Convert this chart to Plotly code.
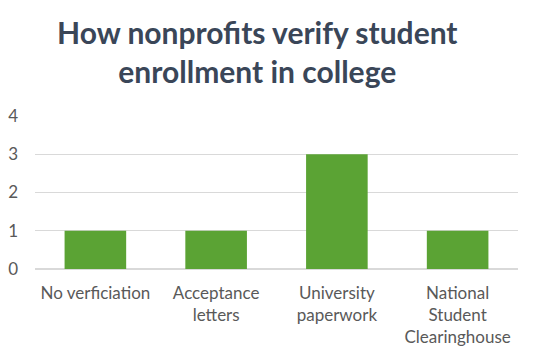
import plotly.graph_objects as go

categories = ["No verficiation", "Acceptance<br>letters", "University<br>paperwork", "National<br>Student<br>Clearinghouse"]
values = [1, 1, 3, 1]
title_text = "How nonprofits verify student<br>enrollment in college"

fig = go.Figure(go.Bar(
    x=categories, y=values,
    marker=dict(color="#5ba334", line=dict(width=0)),
    width=0.51,
))

fig.update_layout(
    width=540, height=360,
    margin=dict(l=27, r=30, t=108, b=99),
    paper_bgcolor="white", plot_bgcolor="white",
    font=dict(family="Lato, 'Open Sans', sans-serif", color="#595959", size=17),
    showlegend=False,
    bargap=0.49,
    annotations=[dict(
        text=title_text, xref="paper", yref="paper", x=0.46, y=1.68,
        xanchor="center", yanchor="top", showarrow=False, align="center",
        font=dict(family="Lato, 'Open Sans', sans-serif", size=30, color="#3a4658", weight="bold"),
    )],
)
fig.update_yaxes(range=[0, 4], dtick=1, showgrid=True, gridcolor="#d9d9d9", gridwidth=1,
                 zeroline=True, zerolinecolor="#d9d9d9", showline=False, ticks="",
                 ticklabelstandoff=16, tickfont=dict(size=17), automargin=False)
fig.update_xaxes(showgrid=False, showline=False, ticks="", tickfont=dict(size=17),
                 ticklabelstandoff=12, automargin=False)

fig.write_html("out.html")
